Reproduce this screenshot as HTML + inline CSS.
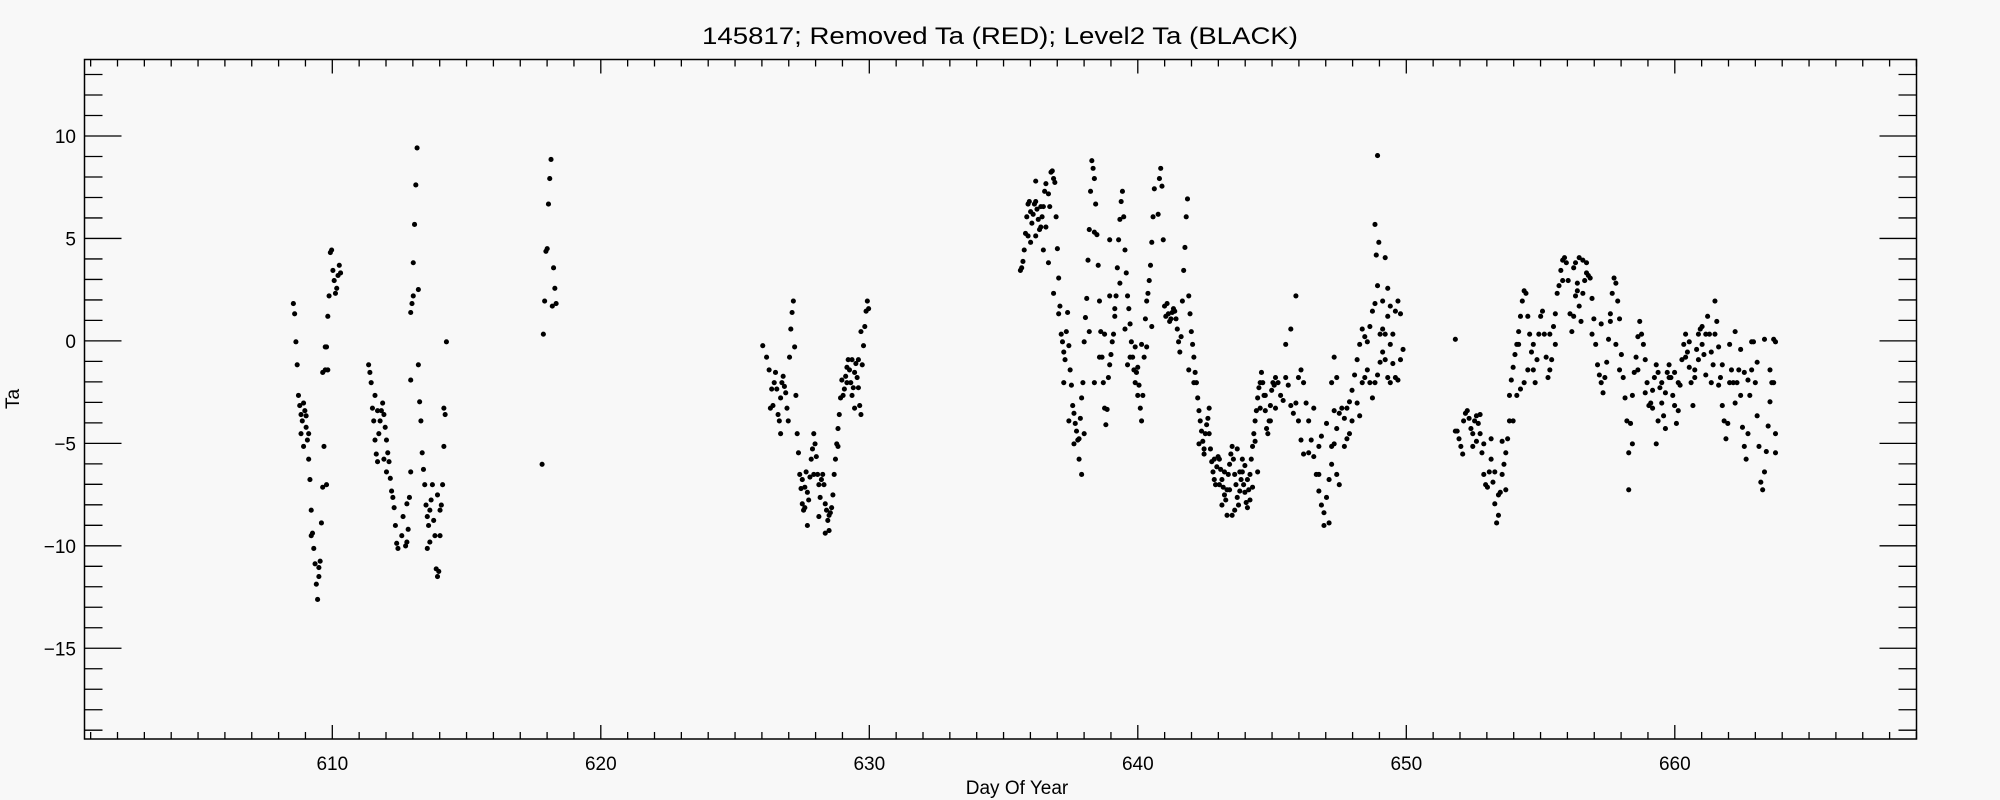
<!DOCTYPE html>
<html><head><meta charset="utf-8"><style>
html,body{margin:0;padding:0;background:#f8f8f8;}
svg{display:block;}
text{font-family:"Liberation Sans",sans-serif;fill:#000;}
</style></head><body>
<svg id="s" width="2000" height="800" xmlns="http://www.w3.org/2000/svg">
<rect width="2000" height="800" fill="#f8f8f8"/>
<text x="1000" y="44" font-size="24" text-anchor="middle" textLength="596" lengthAdjust="spacingAndGlyphs">145817; Removed Ta (RED); Level2 Ta (BLACK)</text>
<rect x="84.5" y="59.5" width="1832" height="679.5" fill="none" stroke="#000" stroke-width="1.5"/>
<g id="ax" stroke="#000" stroke-width="1.3"></g>
<g id="lb" font-size="19"></g>
<text x="1017" y="794" font-size="19" text-anchor="middle">Day Of Year</text>
<text x="0" y="0" font-size="19" text-anchor="middle" transform="translate(19,399) rotate(-90)">Ta</text>
<g id="pts" transform="scale(1.2755)" fill="#000"></g>
</svg>
<script>
var ns="http://www.w3.org/2000/svg";
function el(p,t,a){var e=document.createElementNS(ns,t);for(var k in a)e.setAttribute(k,a[k]);p.appendChild(e);return e;}
var ax=document.getElementById('ax'),lb=document.getElementById('lb');
var L=84.5,R=1916.5,T=59.5,B=739;
function X(d){return 332.3+(d-610)*26.85;}
function Y(v){return 340.9-v*20.49;}
for(var d=601;d<=669;d++){var x=X(d);if(x<L||x>R)continue;var maj=d%10==0;var h=maj?14:7;
el(ax,'line',{x1:x,y1:B,x2:x,y2:B-h});el(ax,'line',{x1:x,y1:T,x2:x,y2:T+h});
if(maj){var t=el(lb,'text',{x:x,y:770,'text-anchor':'middle'});t.textContent=d;}}
for(var v=-19;v<=13;v++){var y=Y(v);var maj=v%5==0;var w=maj?37:18;
el(ax,'line',{x1:L,y1:y,x2:L+w,y2:y});el(ax,'line',{x1:R,y1:y,x2:R-w,y2:y});
if(maj){var t=el(lb,'text',{x:76,y:y+7,'text-anchor':'end'});t.textContent=(v<0?'\u2212':'')+Math.abs(v);}}
var s="230,238;231,246;232,268;233,286;234,310;235,318;236,325;237,330;238,316;239,322;240,335;241,345;242,360;243,376;244,400;245,418;246,430;247,442;248,458;249,470;250,452;251,440;252,410;253,382;254,350;255,290;256,272;257,248;258,232;259,198;260,196;261,212;262,220;263,230;264,226;265,216;266,208;267,214;236,340;238,350;240,326;242,340;244,420;250,445;253,292;256,380;255,272;257,290;"+
"289,286;290,292;291,300;292,320;293,330;294,345;295,356;296,362;297,340;298,330;299,322;300,316;301,325;302,335;303,345;304,355;305,362;306,375;307,385;308,390;309,398;310,412;311,426;312,430;318,428;319,425;320,415;321,390;322,370;322,298;322,245;323,238;324,232;324,206;325,176;326,145;327,116;328,227;328,286;329,315;330,330;331,355;332,368;333,380;334,396;335,405;336,412;337,400;338,392;339,380;340,408;341,420;342,446;343,452;344,448;345,420;346,396;347,380;348,350;349,325;350,268;294,310;296,322;301,360;303,370;315,420;316,405;319,395;337,425;335,430;343,388;345,400;348,320;"+
"425,364;426,262;427,236;428,197;429,195;430,160;431,140;432,125;433,240;434,210;435,226;436,238;"+
"598,271;601,280;603,290;605,305;606,318;607,300;608,292;609,305;610,325;611,330;612,312;613,300;614,295;615,303;616,308;617,320;618,330;619,280;620,258;621,245;622,236;623,272;624,310;625,340;626,355;627,372;628,383;629,395;630,400;631,382;632,370;633,386;634,392;635,374;636,360;637,352;638,340;639,348;640,358;641,372;642,380;643,390;644,376;645,372;646,380;647,395;648,400;649,408;650,416;651,402;652,398;653,388;654,372;655,360;656,348;657,336;658,325;659,312;660,298;661,310;662,305;663,295;664,288;665,282;666,290;667,300;668,310;669,304;670,292;671,285;672,296;673,304;674,318;675,325;676,286;677,271;678,256;679,244;680,236;681,242;604,320;612,340;629,376;631,398;633,412;638,372;642,405;647,418;650,404;657,350;664,300;668,282;670,320;673,282;675,260;"+
"800,212;801,210;802,205;803,196;804,183;805,170;806,160;807,158;808,166;809,175;810,168;811,160;812,158;813,164;814,172;815,180;816,178;817,170;818,162;819,150;820,144;822,152;823,162;824,135;825,134;826,140;827,143;828,170;829,195;830,218;831,240;832,262;833,268;834,276;835,282;836,260;837,245;838,271;839,290;840,302;841,318;842,324;843,332;844,338;845,345;846,344;847,328;848,312;849,300;850,268;851,249;852,234;853,204;854,180;855,150;856,126;857,132;858,140;859,160;860,184;861,208;862,236;863,260;864,280;865,300;866,320;867,333;868,321;869,296;870,286;871,278;872,268;873,262;874,248;875,232;876,210;877,188;878,172;879,158;880,150;881,170;882,196;883,214;884,232;885,242;886,254;887,268;888,280;889,290;890,300;891,292;892,288;893,302;894,320;895,330;896,310;897,280;898,250;899,236;900,230;901,220;902,208;903,190;904,170;905,148;806,185;808,190;812,185;816,162;820,178;822,206;826,230;830,246;834,300;838,330;842,348;846,360;850,340;854,260;858,300;862,280;866,262;870,232;874,242;878,222;882,258;886,280;890,272;895,270;899,272;903,256;848,372;858,182;870,188;884,286;892,310;812,142;818,196;"+
"908,168;909,140;910,132;911,146;912,188;913,240;914,248;915,238;916,246;917,252;918,250;919,245;920,242;921,244;922,250;923,258;924,268;925,276;926,264;927,236;928,212;929,194;930,170;931,156;932,232;933,246;934,260;935,270;936,280;937,292;938,300;939,312;940,322;941,330;942,338;943,346;944,352;945,340;946,333;947,328;948,340;949,352;950,362;951,370;952,376;953,380;954,366;955,358;956,360;957,368;958,376;959,382;960,388;961,392;962,384;963,372;964,364;965,356;966,350;967,360;968,372;969,380;970,390;971,396;972,385;973,376;974,370;975,380;976,386;977,394;978,398;979,384;980,372;981,360;982,350;983,340;984,330;985,322;986,312;987,304;988,300;989,292;990,300;991,310;992,322;993,336;994,340;995,330;996,318;997,306;998,300;999,302;1000,296;932,290;936,300;940,348;944,356;948,320;952,360;956,380;960,370;964,384;968,400;972,370;976,365;980,392;984,346;988,320;992,310;996,330;1000,320;958,396;962,404;966,404;970,352;974,360;978,376;982,382;986,370;"+
"1002,300;1004,310;1006,314;1008,296;1010,302;1012,318;1014,324;1016,316;1018,296;1020,290;1022,300;1024,316;1026,330;1028,345;1030,358;1032,372;1034,385;1036,396;1038,402;1040,390;1042,376;1044,364;1046,348;1048,336;1050,324;1052,320;1054,328;1056,320;1058,315;1060,306;1062,294;1064,282;1066,270;1068,258;1070,264;1072,268;1074,256;1076,244;1078,238;1080,224;1082,262;1084,258;1086,262;1088,248;1090,270;1092,285;1094,296;1096,298;1098,282;1100,274;1008,270;1012,258;1016,232;1018,330;1020,345;1022,356;1026,355;1030,320;1034,350;1036,342;1040,332;1044,350;1048,372;1050,380;1054,350;1056,344;1058,340;1044,300;1046,280;1060,330;1064,316;1066,326;1068,300;1070,296;1072,290;1074,300;1076,312;1078,300;1080,294;1082,284;1084,276;1086,282;1088,296;1090,300;1092,262;1094,244;1096,236;1098,246;1034,372;1038,412;1042,410;1046,322;1048,296;1078,176;1080,122;1086,202;1088,226;1090,240;1084,236;1079,200;1081,190;"+
"1141,266;1141,338;1143,338;1145,344;1147,350;1149,356;1150,330;1152,324;1154,322;1156,328;1158,336;1160,340;1162,330;1164,326;1166,332;1168,340;1170,355;1172,372;1174,380;1176,382;1178,370;1180,360;1182,378;1184,395;1186,410;1188,404;1190,386;1192,372;1194,364;1196,355;1198,344;1200,330;1200,310;1202,298;1204,288;1206,278;1208,270;1210,260;1212,248;1214,236;1216,228;1218,230;1220,248;1222,262;1224,276;1226,290;1228,300;1230,282;1232,262;1234,248;1236,244;1238,262;1240,280;1242,296;1244,290;1246,282;1248,256;1250,246;1252,230;1254,224;1256,212;1258,204;1260,202;1262,206;1264,220;1266,246;1268,260;1270,248;1272,232;1274,228;1276,240;1278,252;1280,230;1282,220;1284,214;1286,216;1288,218;1290,234;1292,250;1294,270;1296,286;1298,294;1300,300;1302,308;1304,296;1306,284;1308,266;1310,246;1312,230;1314,218;1316,222;1318,236;1320,250;1322,278;1324,296;1326,312;1328,330;1330,355;1332,332;1334,310;1336,292;1338,280;1340,264;1342,252;1344,262;1346,270;1348,282;1350,300;1352,318;1354,316;1356,306;1358,296;1360,286;1362,292;1364,304;1366,316;1368,326;1370,308;1372,292;1374,286;1376,296;1378,310;1380,318;1382,332;1384,322;1386,302;1388,282;1390,270;1392,262;1394,276;1396,288;1398,300;1400,318;1402,290;1404,274;1406,262;1408,258;1410,270;1412,278;1414,262;1416,248;1418,262;1420,276;1422,286;1424,262;1426,252;1428,272;1430,296;1432,318;1434,330;1436,344;1438,332;1440,300;1442,290;1444,300;1446,316;1448,300;1450,290;1452,310;1454,335;1456,350;1458,360;1460,340;1462,310;1464,268;1466,268;1468,300;1470,326;1472,350;1474,378;1476,384;1478,370;1480,354;1482,334;1484,315;1486,300;1488,266;1490,268;1160,350;1164,346;1168,325;1172,348;1180,344;1184,370;1188,388;1192,346;1196,384;1204,330;1208,310;1212,305;1216,300;1210,270;1220,290;1226,270;1244,262;1250,270;1258,220;1270,210;1276,202;1280,204;1284,206;1272,206;1274,222;1290,262;1300,254;1310,252;1316,270;1320,290;1330,384;1334,348;1340,290;1348,308;1356,320;1360,348;1362,330;1366,300;1370,336;1374,296;1380,292;1384,300;1392,280;1396,268;1402,296;1406,282;1410,256;1414,294;1420,300;1424,236;1428,302;1432,286;1440,270;1446,260;1452,274;1456,292;1460,298;1464,290;1470,284;1478,266;1484,290;1488,300;1490,340;1490,355";
var g=document.getElementById('pts');
s.split(';').forEach(function(p){if(!p)return;var a=p.split(',');var x=+a[0];if(x>1130)x=1141+(x-1141)*(251/349);el(g,'circle',{cx:x,cy:a[1],r:2});});
</script>
</body></html>
